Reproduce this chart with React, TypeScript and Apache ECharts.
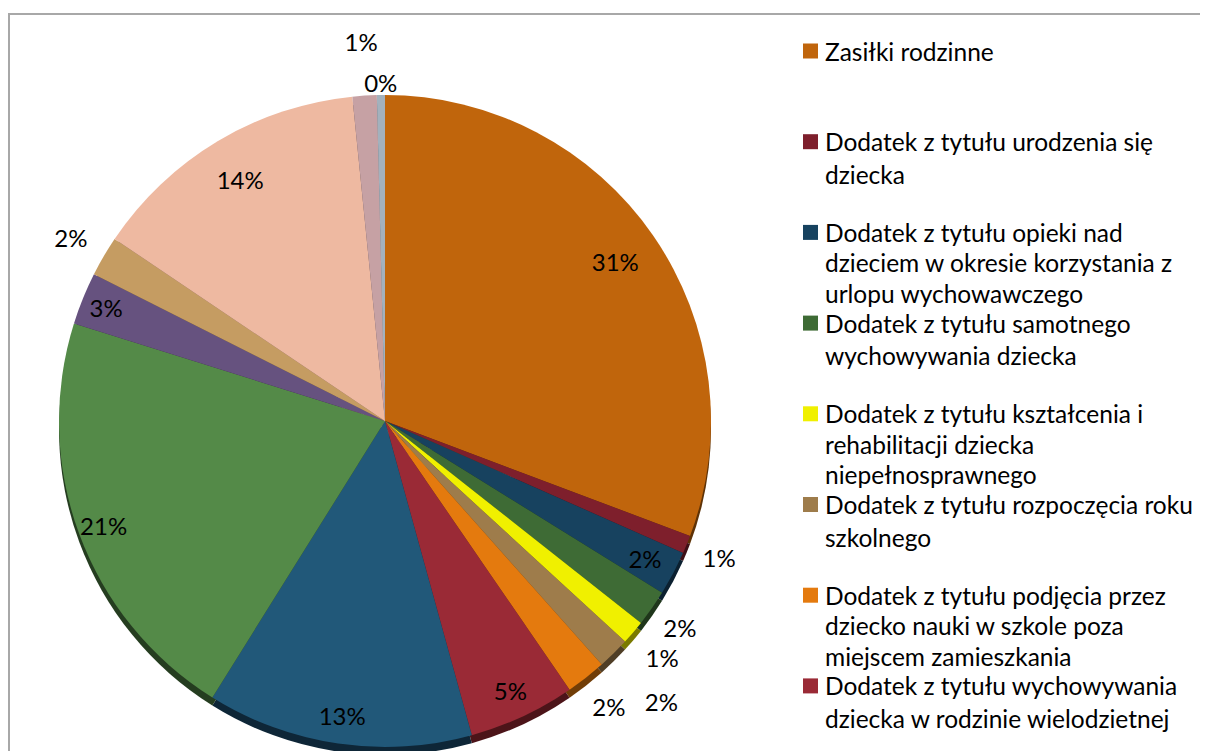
import React, { useEffect, useRef } from "react";
import * as echarts from "echarts";

// ---- data ----
const categories: string[] = [
  "Zasiłki rodzinne",
  "Dodatek z tytułu urodzenia się dziecka",
  "Dodatek z tytułu opieki nad dzieckiem w okresie korzystania z urlopu wychowawczego",
  "Dodatek z tytułu samotnego wychowywania dziecka",
  "Dodatek z tytułu kształcenia i rehabilitacji dziecka niepełnosprawnego",
  "Dodatek z tytułu rozpoczęcia roku szkolnego",
  "Dodatek z tytułu podjęcia przez dziecko nauki w szkole poza miejscem zamieszkania",
  "Dodatek z tytułu wychowywania dziecka w rodzinie wielodzietnej",
  "Zasiłek pielęgnacyjny",
  "Świadczenie pielęgnacyjne",
  "Specjalny zasiłek opiekuńczy",
  "Zasiłek dla opiekuna",
  "Świadczenia z funduszu alimentacyjnego",
  "Jednorazowa zapomoga z tytułu urodzenia się dziecka",
  "Pozostałe świadczenia",
];

const values: number[] = [30.8, 0.9, 2.2, 1.8, 1.2, 1.6, 2.0, 5.3, 13.2, 21.0, 2.6, 2.0, 14.0, 1.2, 0.4];

// legend texts as wrapped in the original (first 8 entries visible)
const legendLines: string[][] = [
  ["Zasiłki rodzinne"],
  ["Dodatek z tytułu urodzenia się", "dziecka"],
  ["Dodatek z tytułu opieki nad", "dzieciem w okresie korzystania z", "urlopu wychowawczego"],
  ["Dodatek z tytułu samotnego", "wychowywania dziecka"],
  ["Dodatek z tytułu kształcenia i", "rehabilitacji dziecka", "niepełnosprawnego"],
  ["Dodatek z tytułu rozpoczęcia roku", "szkolnego"],
  ["Dodatek z tytułu podjęcia przez", "dziecko nauki w szkole poza", "miejscem zamieszkania"],
  ["Dodatek z tytułu wychowywania", "dziecka w rodzinie wielodzietnej"],
];

// ---- styles ----
const colors: string[] = [
  "#C0650C", "#7E1F2C", "#17425F", "#3E6B35", "#F0F000", "#9E7C4B", "#E47A0E",
  "#9A2A36", "#215879", "#548A48", "#66527F", "#C59C62", "#EEB9A1", "#C6A1A4", "#A3B1BD",
];
const rimColors: string[] = [
  "#5E3206", "#3E0F16", "#0B2030", "#1F361B", "#7A7A00", "#4F3E26", "#713D07",
  "#4C1419", "#0E2637", "#253D20", "#33293F", "#624E31", "#77594E", "#635052", "#515860",
];
// radial offset (px) of each percentage label relative to the pie rim
const labelRadialOffset: number[] = [-46, 35, -32, 34, 38, 68, 37, -29, -28, -26, -25, 38, -44, 54, 13];

const FONT = "Lato, 'Noto Sans', sans-serif";
const LEGEND_FS = 24.5;

export default function App() {
  const ref = useRef<HTMLDivElement>(null);

  useEffect(() => {
    document.documentElement.style.overflow = "hidden";
    document.body.style.overflow = "hidden";
    if (!ref.current) return;
    const chart = echarts.init(ref.current, undefined, { renderer: "svg" });

    const cx = 375;
    const cy = 406;
    const R = 326;

    const legends = legendLines.map((lines, i) => {
      const lh = lines.length > 2 ? 30.5 : 32.5;
      return {
        data: [categories[i]],
        left: 788,
        top: 51 - 15 - lh / 2 + 90.7 * i,
        orient: "vertical",
        padding: 0,
        itemGap: 0,
        itemWidth: 0,
        itemHeight: 0,
        icon: "rect",
        selectedMode: false,
        formatter: () =>
          lines
            .map((l, k) => (k === 0 ? "{sq|}{gap|}" : "{sp|}") + "{t|" + l + "}")
            .join("\n"),
        textStyle: {
          fontFamily: FONT,
          fontSize: LEGEND_FS,
          color: "#000",
          lineHeight: lh,
          rich: {
            sq: { width: 15, height: 15, backgroundColor: colors[i], lineHeight: lh, verticalAlign: "middle" },
            gap: { width: 7, height: 15, lineHeight: lh },
            sp: { width: 22, height: 15, lineHeight: lh },
            t: { fontFamily: FONT, fontSize: LEGEND_FS, color: "#000", lineHeight: lh, verticalAlign: "middle" },
          },
        },
      };
    });

    chart.setOption({
      animation: false,
      backgroundColor: "#fff",
      legend: legends,
      series: [
        {
          type: "pie",
          name: "main",
          z: 3,
          center: [cx, cy],
          radius: R,
          startAngle: 90,
          clockwise: true,
          avoidLabelOverlap: false,
          silent: true,
          emphasis: { disabled: true },
          itemStyle: { borderWidth: 0 },
          label: {
            show: true,
            position: "outside",
            formatter: (p: any) => Math.round(p.percent) + "%",
            fontFamily: FONT,
            fontSize: 24,
            color: "#000",
            distanceToLabelLine: 0,
          },
          labelLine: { show: false, length2: 0 },
          labelLayout: { align: "center" },
          data: values.map((v, i) => ({
            name: categories[i],
            value: v,
            itemStyle: { color: colors[i] },
            labelLine: { show: false, length: labelRadialOffset[i], length2: 0 },
          })),
        },
        {
          type: "pie",
          name: "rim",
          z: 1,
          center: [cx, cy + 8],
          radius: R,
          startAngle: 90,
          clockwise: true,
          silent: true,
          emphasis: { disabled: true },
          itemStyle: { borderWidth: 0 },
          label: { show: false },
          labelLine: { show: false },
          data: values.map((v, i) => ({
            name: categories[i],
            value: v,
            itemStyle: { color: rimColors[i] },
          })),
        },
      ],
    });

    return () => {
      chart.dispose();
    };
  }, []);

  return (
    <div
      style={{
        position: "relative",
        top: 5,
        width: 1200,
        height: 743,
        boxSizing: "border-box",
        borderTop: "2px solid #A8A8A8",
        borderLeft: "2px solid #A8A8A8",
        overflow: "hidden",
      }}
    >
      <div ref={ref} style={{ width: 1198, height: 741 }} />
    </div>
  );
}
